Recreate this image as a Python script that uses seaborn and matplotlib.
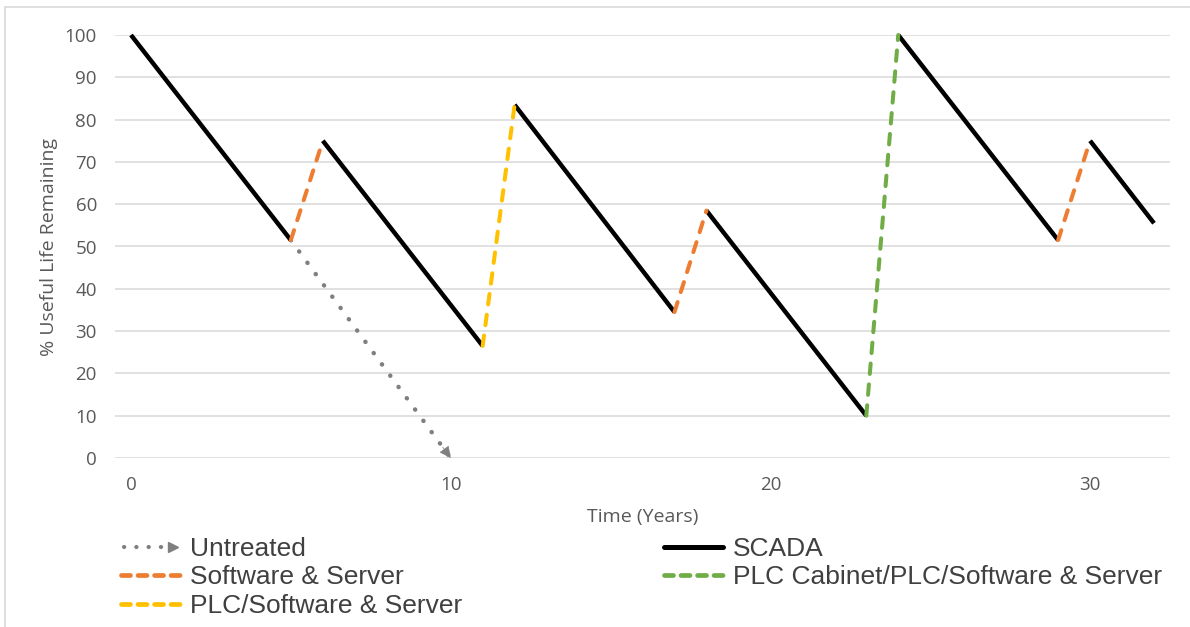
import numpy as np
import pandas as pd
import matplotlib
matplotlib.use("Agg")
import matplotlib.pyplot as plt
from matplotlib.lines import Line2D
from matplotlib.legend_handler import HandlerBase
import seaborn as sns

# Asset condition over time: each treatment resets the remaining useful life
years_scada = [0, 5, 6, 11, 12, 17, 18, 23, 24, 29, 30, 32]
life_scada = [100, 51.5, 75, 26.5, 83.5, 34.5, 58.5, 10, 100, 51.5, 75, 55.5]
seg_scada = [0, 0, 1, 1, 2, 2, 3, 3, 4, 4, 5, 5]

years_sw = [5, 6, 17, 18, 29, 30]
life_sw = [51.5, 75, 34.5, 58.5, 51.5, 75]
seg_sw = [0, 0, 1, 1, 2, 2]

years_plc = [11, 12]
life_plc = [26.5, 83.5]
seg_plc = [0, 0]

years_cab = [23, 24]
life_cab = [10, 100]
seg_cab = [0, 0]

years_untreated = [5, 10]
life_untreated = [51.5, 0]
seg_untreated = [0, 0]

x_ticks = [0, 10, 20, 30]
y_ticks = [0, 10, 20, 30, 40, 50, 60, 70, 80, 90, 100]

sns.set_theme(style="white")
plt.rcParams["font.family"] = ["Open Sans", "DejaVu Sans"]

GREY_TXT = "#595959"
GRID = "#D9D9D9"
C_ORANGE = "#ED7D31"
C_YELLOW = "#FFC000"
C_GREEN = "#70AD47"
C_UNTREATED = "#7F7F7F"

DOT = (0.05, 3.1)
DASH = (2.6, 2.6)

fig = plt.figure(figsize=(11.9, 6.27), dpi=100)
W, H = 1190, 627
ax = fig.add_axes([115 / W, 1 - 458 / H, (1170 - 115) / W, (458 - 35) / H])


def frame(years, life, seg, name):
    return pd.DataFrame({"year": years, "life": life, "seg": seg, "series": name})


series = [
    (frame(years_untreated, life_untreated, seg_untreated, "Untreated"),
     dict(color=C_UNTREATED, linewidth=3.2, dashes=DOT)),
    (frame(years_scada, life_scada, seg_scada, "SCADA"),
     dict(color="black", linewidth=3.2)),
    (frame(years_sw, life_sw, seg_sw, "Software & Server"),
     dict(color=C_ORANGE, linewidth=2.9, dashes=DASH)),
    (frame(years_plc, life_plc, seg_plc, "PLC/Software & Server"),
     dict(color=C_YELLOW, linewidth=2.9, dashes=DASH)),
    (frame(years_cab, life_cab, seg_cab, "PLC Cabinet/PLC/Software & Server"),
     dict(color=C_GREEN, linewidth=2.9, dashes=DASH)),
]

for df, style in series:
    n_before = len(ax.lines)
    sns.lineplot(data=df, x="year", y="life", units="seg", estimator=None,
                 sort=False, ax=ax, legend=False, color=style["color"],
                 linewidth=style["linewidth"])
    for ln in ax.lines[n_before:]:
        ln.set_clip_on(False)
        if "dashes" in style:
            ln.set_dashes(style["dashes"])
            ln.set_dash_capstyle("round")
        else:
            ln.set_solid_capstyle("butt")

# Arrowhead at the end of the untreated decline
x0, x1 = years_untreated[-2], years_untreated[-1]
y0, y1 = life_untreated[-2], life_untreated[-1]
t = 0.95
ax.annotate("", xy=(x1, y1), xytext=(x0 + t * (x1 - x0), y0 + t * (y1 - y0)),
            arrowprops=dict(arrowstyle="-|>,head_length=0.6,head_width=0.3",
                            color=C_UNTREATED, lw=0.5, shrinkA=0, shrinkB=0),
            annotation_clip=False)

ax.set_xlim(-0.5, 32.5)
ax.set_ylim(0, 100)
ax.set_xticks(x_ticks)
ax.set_yticks(y_ticks)
ax.yaxis.grid(True, color=GRID, linewidth=1.1)
ax.xaxis.grid(False)
ax.set_axisbelow(True)
for sp in ax.spines.values():
    sp.set_visible(False)
ax.tick_params(axis="both", length=0, labelsize=13.5, colors=GREY_TXT)
ax.tick_params(axis="x", pad=13)
ax.tick_params(axis="y", pad=13)
ax.set_xlabel("Time (Years)", fontsize=14, color=GREY_TXT)
ax.set_ylabel("% Useful Life Remaining", fontsize=14, color=GREY_TXT)
ax.xaxis.set_label_coords(0.5, -0.118)
ax.yaxis.set_label_coords(-0.054, 0.5)


class ArrowLineHandler(HandlerBase):
    def create_artists(self, legend, orig, xdescent, ydescent, width, height,
                       fontsize, trans):
        y = height / 2 - ydescent
        x_end = width - xdescent
        line = Line2D([-xdescent + 2, x_end - 9], [y, y], color=C_UNTREATED,
                      linewidth=3.0, dashes=(0.05, 2.9), dash_capstyle="round",
                      transform=trans)
        head = Line2D([x_end - 5], [y], marker=">", markersize=7,
                      color=C_UNTREATED, linestyle="none", transform=trans)
        return [line, head]


def dash_handle(color):
    return Line2D([], [], color=color, linewidth=3.4, dashes=(1.9, 1.6),
                  dash_capstyle="round")


h_untreated = Line2D([], [], color=C_UNTREATED)
h_scada = Line2D([], [], color="black", linewidth=3.6)

leg_kw = dict(frameon=False, handlelength=2.25, handletextpad=0.35,
              labelspacing=0.17, borderaxespad=0, borderpad=0)
leg_font = {"family": ["Liberation Sans", "DejaVu Sans"], "size": 19}

leg1 = fig.legend([h_untreated, dash_handle(C_ORANGE), dash_handle(C_YELLOW)],
                  ["Untreated", "Software & Server", "PLC/Software & Server"],
                  loc="upper left", bbox_to_anchor=(121 / W, 1 - 537 / H),
                  handler_map={h_untreated: ArrowLineHandler()},
                  prop=leg_font, **leg_kw)
leg2 = fig.legend([h_scada, dash_handle(C_GREEN)],
                  ["SCADA", "PLC Cabinet/PLC/Software & Server"],
                  loc="upper left", bbox_to_anchor=(664 / W, 1 - 537 / H),
                  prop=leg_font, **leg_kw)
for leg in (leg1, leg2):
    for txt in leg.get_texts():
        txt.set_color("#404040")

# Light outline along the top and left edges of the chart area
fig.add_artist(Line2D([5 / W, 5 / W], [0, 1 - 7 / H], color=GRID, linewidth=1.2,
                      transform=fig.transFigure))
fig.add_artist(Line2D([5 / W, 1], [1 - 7 / H, 1 - 7 / H], color=GRID, linewidth=1.2,
                      transform=fig.transFigure))

fig.savefig("out.png", dpi=100)
